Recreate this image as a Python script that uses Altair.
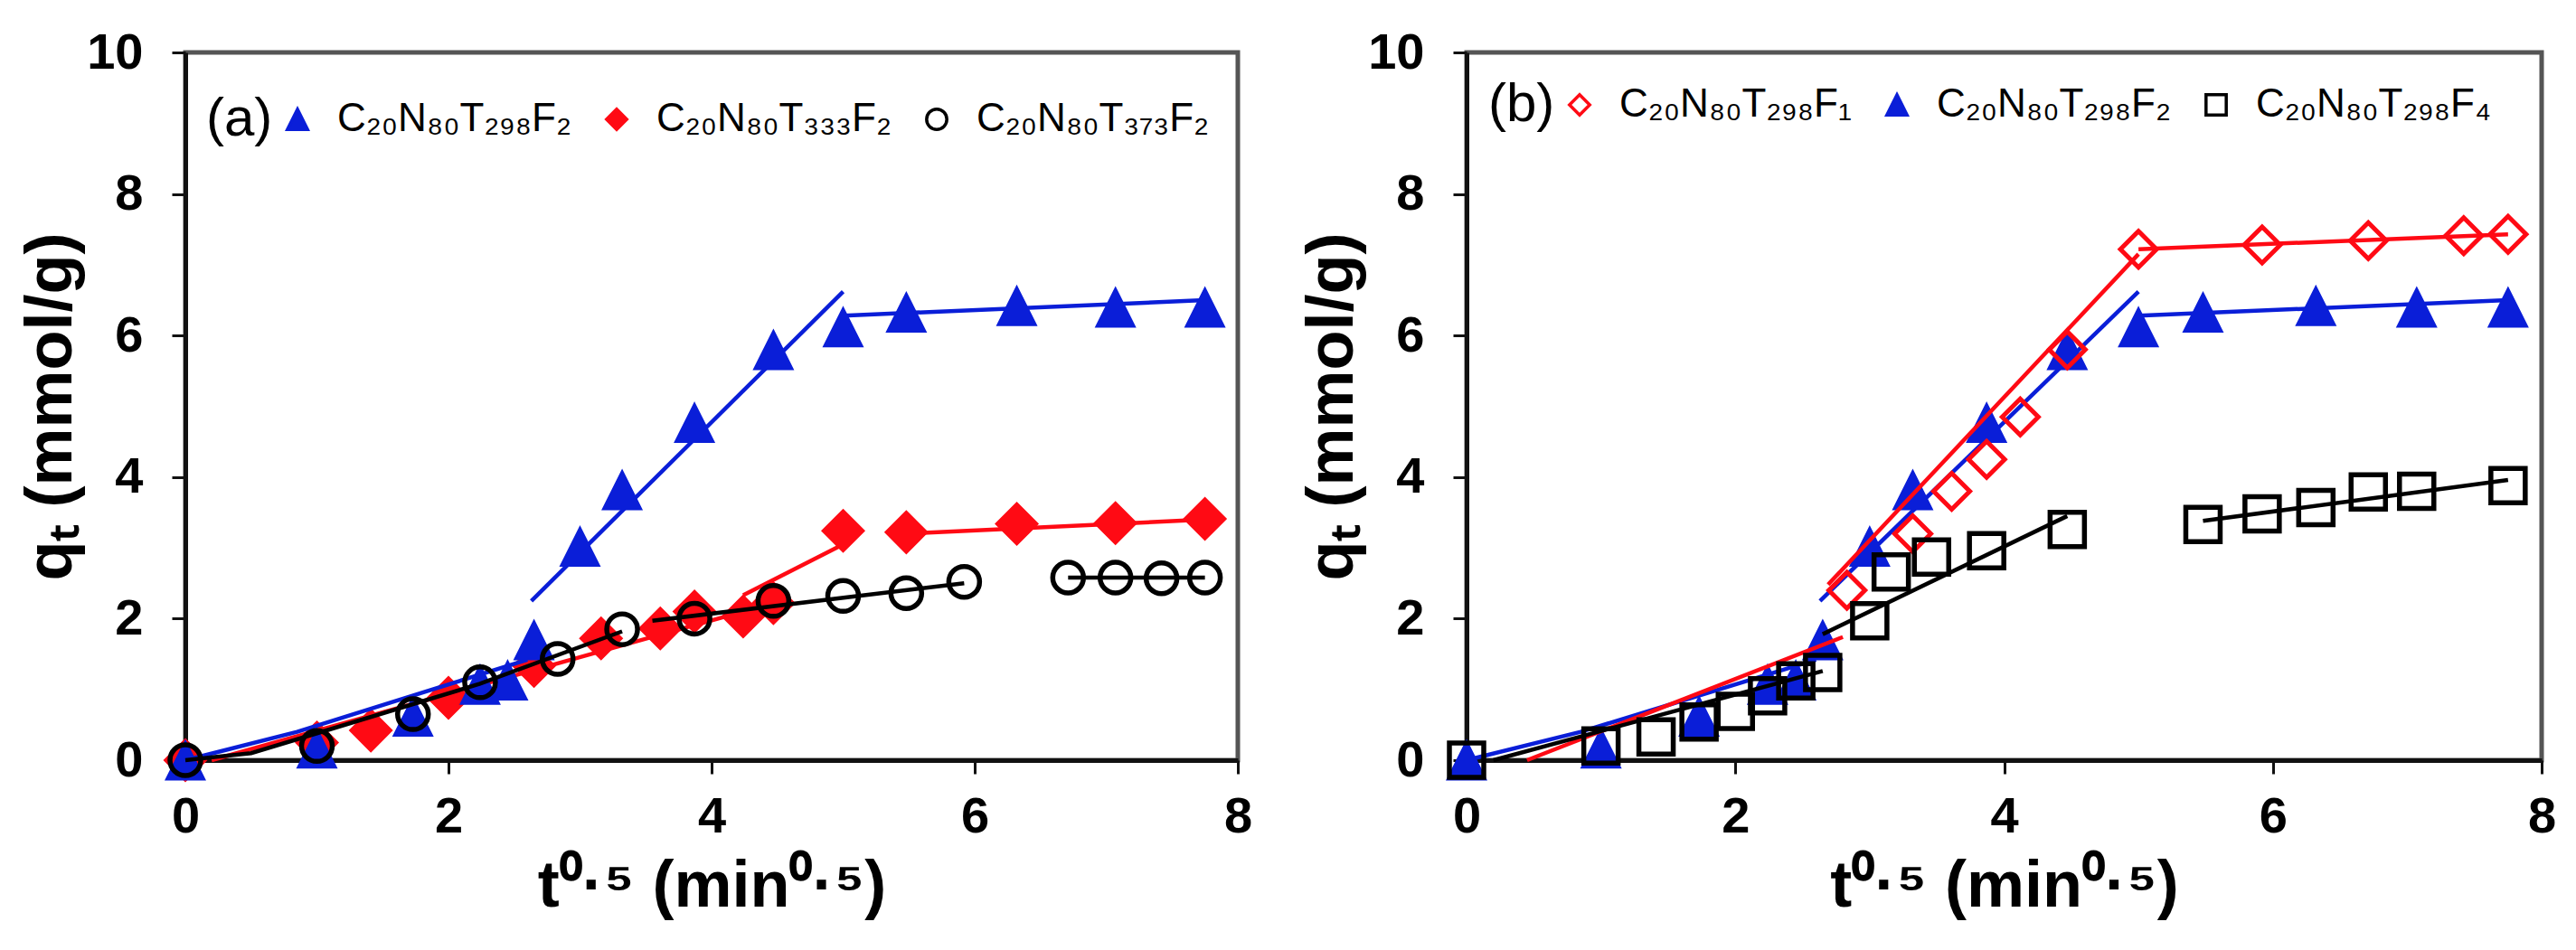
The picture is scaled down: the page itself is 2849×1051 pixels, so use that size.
import altair as alt
import pandas as pd

# ---------------- data ----------------
# panel (a)
A_LABELS = ["C₂₀N₈₀T₂₉₈F₂", "C₂₀N₈₀T₃₃₃F₂", "C₂₀N₈₀T₃₇₃F₂"]

A_BLUE_X = [0, 1.0, 1.73, 2.24, 2.45, 2.65, 3.0, 3.32, 3.87, 4.47, 5.0, 5.48, 6.32, 7.07, 7.75]
A_BLUE_Y = [0.0, 0.17, 0.62, 1.07, 1.13, 1.7, 3.02, 3.82, 4.77, 5.8, 6.12, 6.33, 6.42, 6.4, 6.4]

A_RED_X = [0, 1.0, 1.41, 2.0, 2.65, 3.16, 3.61, 3.87, 4.24, 4.47, 5.0, 5.48, 6.32, 7.07, 7.75]
A_RED_Y = [0.0, 0.25, 0.42, 0.88, 1.33, 1.72, 1.86, 2.1, 2.03, 2.22, 3.24, 3.22, 3.34, 3.35, 3.41]

A_BLACK_X = [0, 1.0, 1.73, 2.24, 2.83, 3.32, 3.87, 4.47, 5.0, 5.48, 5.92, 6.71, 7.07, 7.42, 7.75]
A_BLACK_Y = [0.0, 0.2, 0.65, 1.1, 1.43, 1.85, 2.0, 2.25, 2.32, 2.36, 2.52, 2.58, 2.58, 2.57, 2.58]

# fitted line segments (x lists, y lists)
A_BLUE_FIT_X = [[0, 0.85, 2.6], [2.63, 5.0], [5.0, 7.75]]
A_BLUE_FIT_Y = [[0, 0.4, 1.42], [2.25, 6.62], [6.28, 6.5]]
A_RED_FIT_X = [[0.2, 4.24], [4.24, 5.0], [5.48, 7.75]]
A_RED_FIT_Y = [[0.0, 2.1], [2.33, 3.05], [3.2, 3.4]]
A_BLACK_FIT_X = [[0, 0.5, 1.0, 2.24, 3.32], [3.55, 5.92], [6.71, 7.75]]
A_BLACK_FIT_Y = [[0, 0.1, 0.38, 1.08, 1.82], [1.97, 2.5], [2.58, 2.58]]

# panel (b)
B_LABELS = ["C₂₀N₈₀T₂₉₈F₁", "C₂₀N₈₀T₂₉₈F₂", "C₂₀N₈₀T₂₉₈F₄"]

B_RED_X = [2.83, 3.32, 3.61, 3.87, 4.12, 4.47, 5.0, 5.92, 6.71, 7.42, 7.75]
B_RED_Y = [2.4, 3.2, 3.8, 4.25, 4.85, 5.8, 7.22, 7.28, 7.34, 7.41, 7.43]

B_BLUE_X = A_BLUE_X
B_BLUE_Y = A_BLUE_Y

B_BLACK_X = [0, 1.0, 1.41, 1.73, 2.0, 2.24, 2.45, 2.65, 3.0, 3.16, 3.46, 3.87, 4.47,
             5.48, 5.92, 6.32, 6.71, 7.07, 7.75]
B_BLACK_Y = [0.0, 0.2, 0.33, 0.54, 0.69, 0.91, 1.12, 1.24, 1.97, 2.66, 2.87, 2.96, 3.26,
             3.33, 3.48, 3.57, 3.79, 3.8, 3.88]

B_RED_FIT_X = [[0.45, 2.8], [2.69, 5.0], [5.0, 7.75]]
B_RED_FIT_Y = [[0.0, 1.74], [2.48, 7.15], [7.22, 7.43]]
B_BLUE_FIT_X = A_BLUE_FIT_X
B_BLUE_FIT_Y = A_BLUE_FIT_Y
B_BLACK_FIT_X = [[0.2, 2.65], [2.65, 4.47], [5.48, 7.75]]
B_BLACK_FIT_Y = [[0.0, 1.26], [1.78, 3.45], [3.38, 3.96]]

X_TICKS = [0, 2, 4, 6, 8]
Y_TICKS = [0, 2, 4, 6, 8, 10]

# ---------------- style ----------------
FONT = "Liberation Sans, Arial, Helvetica, sans-serif"
BLUE = "#0A1ED8"
RED = "#FF0A14"
BLACK = "#000000"
NOFILL = "rgba(255,255,255,0)"
TRI = "M0,-1L1,1L-1,1Z"


def points_df(xs, ys, name):
    return pd.DataFrame({"x": xs, "y": ys, "s": [name] * len(xs)})


def fit_df(seg_x, seg_y):
    rows = []
    for i, (sx, sy) in enumerate(zip(seg_x, seg_y)):
        for j, (xv, yv) in enumerate(zip(sx, sy)):
            rows.append({"x": xv, "y": yv, "seg": i, "o": j})
    return pd.DataFrame(rows)


def panel(tag, labels, series, width, height, lx, ly, fills, strokes, shapes):
    xenc = alt.X("x:Q", scale=alt.Scale(domain=[0, 8], nice=False),
                 axis=alt.Axis(values=X_TICKS, title="t⁰·⁵ (min⁰·⁵)", format="d"))
    yenc = alt.Y("y:Q", scale=alt.Scale(domain=[0, 10], nice=False),
                 axis=alt.Axis(values=Y_TICKS, title="qₜ (mmol/g)", format="d"))
    leg = alt.Legend(title=tag, orient="none", legendX=lx, legendY=ly,
                     direction="horizontal", titleOrient="left")
    fill = alt.Fill("s:N", scale=alt.Scale(domain=labels, range=fills), legend=leg)
    stroke = alt.Stroke("s:N", scale=alt.Scale(domain=labels, range=strokes), legend=leg)
    shape = alt.Shape("s:N", scale=alt.Scale(domain=labels, range=shapes), legend=leg)
    layers = []
    for s in series:
        layers.append(
            alt.Chart(fit_df(s["fx"], s["fy"])).mark_line(
                color=s["color"], strokeWidth=4.5
            ).encode(x=xenc, y=yenc, detail="seg:N", order="o:Q")
        )
        layers.append(
            alt.Chart(points_df(s["x"], s["y"], s["label"])).mark_point(
                filled=True, size=s["size"], strokeWidth=s["sw"], opacity=1
            ).encode(x=xenc, y=yenc, fill=fill, stroke=stroke, shape=shape)
        )
    return alt.layer(*layers).properties(width=width, height=height)


panel_a = panel(
    "(a)", A_LABELS,
    [
        dict(x=A_RED_X, y=A_RED_Y, fx=A_RED_FIT_X, fy=A_RED_FIT_Y, color=RED,
             label=A_LABELS[1], size=2200, sw=1.5),
        dict(x=A_BLUE_X, y=A_BLUE_Y, fx=A_BLUE_FIT_X, fy=A_BLUE_FIT_Y, color=BLUE,
             label=A_LABELS[0], size=1900, sw=1.5),
        dict(x=A_BLACK_X, y=A_BLACK_Y, fx=A_BLACK_FIT_X, fy=A_BLACK_FIT_Y, color=BLACK,
             label=A_LABELS[2], size=1156, sw=5.5),
    ],
    1164, 783, 23, 52,
    fills=[BLUE, RED, NOFILL], strokes=[BLUE, RED, BLACK], shapes=[TRI, "diamond", "circle"],
)

panel_b = panel(
    "(b)", B_LABELS,
    [
        dict(x=B_BLUE_X, y=B_BLUE_Y, fx=B_BLUE_FIT_X, fy=B_BLUE_FIT_Y, color=BLUE,
             label=B_LABELS[1], size=1900, sw=1.5),
        dict(x=B_RED_X, y=B_RED_Y, fx=B_RED_FIT_X, fy=B_RED_FIT_Y, color=RED,
             label=B_LABELS[0], size=1600, sw=5),
        dict(x=B_BLACK_X, y=B_BLACK_Y, fx=B_BLACK_FIT_X, fy=B_BLACK_FIT_Y, color=BLACK,
             label=B_LABELS[2], size=1444, sw=5.5),
    ],
    1189, 783, 24, 36,
    fills=[NOFILL, BLUE, NOFILL], strokes=[RED, BLUE, BLACK], shapes=["diamond", TRI, "square"],
)

chart = alt.hconcat(panel_a, panel_b, spacing=47).resolve_scale(
    fill="independent", stroke="independent", shape="independent",
    x="independent", y="independent",
).resolve_legend(
    fill="independent", stroke="independent", shape="independent"
).properties(
    padding={"left": 10, "top": 19, "right": 0, "bottom": 0},
    background="white",
).configure_view(
    stroke="#555555", strokeWidth=5
).configure_axis(
    grid=False, domainColor="#111111", domainWidth=5, tickColor="#111111",
    tickWidth=3, tickSize=15, labelFont=FONT, labelFontSize=56, labelFontWeight="bold",
    labelColor="black", titleFont=FONT, titleFontSize=72, titleFontWeight="bold",
    titleColor="black", labelFlush=False,
).configure_axisX(
    labelPadding=20, titlePadding=14,
).configure_axisY(
    labelPadding=32, titlePadding=2,
).configure_legend(
    labelFont=FONT, labelFontSize=44, labelColor="black", labelLimit=500,
    titleFont=FONT, titleFontSize=60, titleFontWeight="normal", titleColor="black",
    titlePadding=5, symbolSize=500, symbolStrokeWidth=3.5, labelOffset=22,
    columnPadding=28, padding=0, titleBaseline="middle", titleAnchor="middle",
)

chart.save("out.html", embed_options={"renderer": "svg", "actions": False})
